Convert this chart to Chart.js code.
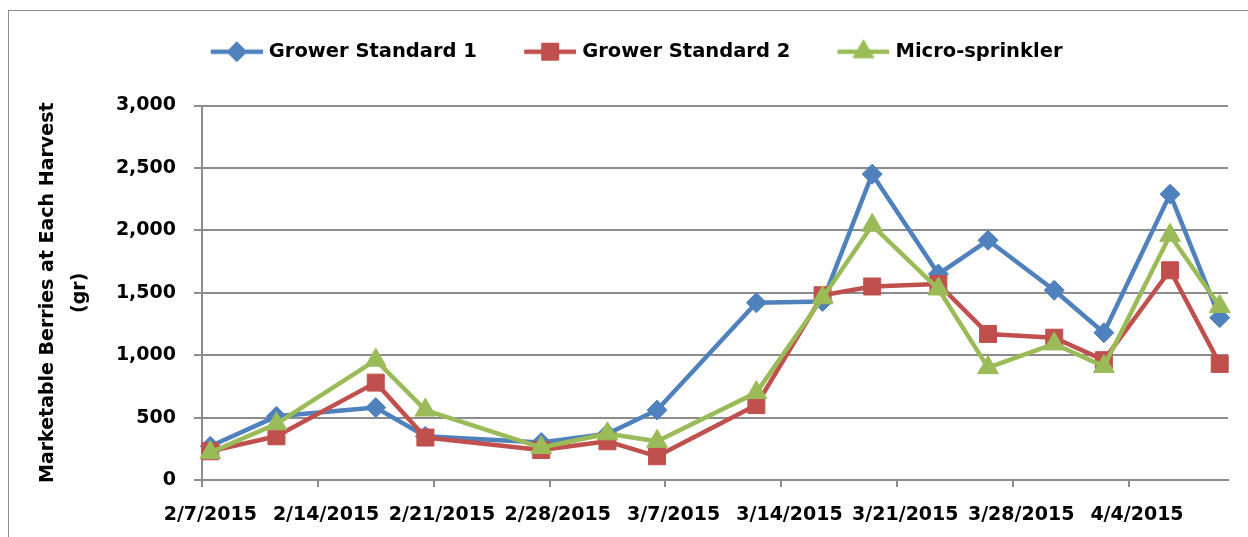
<!DOCTYPE html>
<html>
<head>
<meta charset="utf-8">
<script src="https://cdn.jsdelivr.net/npm/chart.js@4.4.0/dist/chart.umd.min.js"></script>
<style>
  html, body { margin: 0; padding: 0; background: #fff; overflow: hidden; }
  #wrap { position: relative; width: 1248px; height: 537px; overflow: hidden; }
  #frame { position: absolute; left: 8px; top: 10px; right: -10px; bottom: -10px;
           border-left: 1.5px solid #8c8c8c; border-top: 1.5px solid #8c8c8c; pointer-events: none; }
</style>
</head>
<body>
<div id="wrap">
  <canvas id="chart" width="1248" height="537"></canvas>
  <div id="frame"></div>
</div>
<script>
let harvestDates = ['2/7/2015', '2/11/2015', '2/17/2015', '2/20/2015', '2/27/2015', '3/3/2015', '3/6/2015', '3/12/2015',
                    '3/16/2015', '3/19/2015', '3/23/2015', '3/26/2015', '3/30/2015', '4/2/2015', '4/6/2015', '4/9/2015'];
let grower1 = [270, 510, 580, 350, 300, 370, 560, 1420, 1430, 2450, 1650, 1920, 1520, 1180, 2290, 1300];
let grower2 = [230, 350, 780, 340, 240, 310, 190, 600, 1480, 1550, 1570, 1170, 1140, 960, 1680, 930];
let micro = [220, 450, 960, 560, 260, 370, 310, 700, 1460, 2040, 1530, 900, 1090, 910, 1960, 1390];
let seriesNames = ['Grower Standard 1', 'Grower Standard 2', 'Micro-sprinkler'];
let tickLabels = ['2/7/2015', '2/14/2015', '2/21/2015', '2/28/2015', '3/7/2015', '3/14/2015', '3/21/2015', '3/28/2015', '4/4/2015'];

let color = ['#4F81BD', '#C0504D', '#9BBB59'];
let markers = ['rectRot', 'rect', 'triangle'];
let radii = [10, 12, 12];
let gray = '#8c8c8c';

// one category per day (date axis), 2/7 .. 4/9
let days = [];
for (let d = new Date(2015, 1, 7); d <= new Date(2015, 3, 9); d.setDate(d.getDate() + 1)) {
    days.push((d.getMonth() + 1) + '/' + d.getDate() + '/' + d.getFullYear());
}

Chart.defaults.font.family = 'DejaVu Sans';
let boldFont = { family: 'DejaVu Sans', weight: 'bold', size: 19 };

function pairs(values) {
    return values.map((v, i) => ({ x: harvestDates[i], y: v }));
}

// legend icon: line with marker, like excel
function legendIcon(i) {
    let c = document.createElement('canvas');
    c.width = 93; c.height = 26;
    let g = c.getContext('2d');
    g.strokeStyle = color[i];
    g.lineWidth = 4.5;
    g.beginPath(); g.moveTo(41, 13); g.lineTo(93, 13); g.stroke();
    g.fillStyle = color[i];
    g.lineWidth = 1;
    Chart.helpers.drawPoint(g, { pointStyle: markers[i], radius: radii[i], rotation: 0, borderWidth: 1 }, 67, 13);
    return c;
}
let icons = [0, 1, 2].map(legendIcon);

const legendSpace = {
    id: 'legendSpace',
    beforeLayout(chart) {
        let lg = chart.legend;
        if (lg && !lg._tall) {
            let fit = lg.fit;
            lg.fit = function () { fit.call(this); this.height += 34; };
            lg._tall = true;
        }
    }
};

let allSeries = [grower1, grower2, micro];
let ctx = document.getElementById('chart').getContext('2d');
let chart = new Chart(ctx, {
    type: 'line',
    data: {
        labels: days,
        datasets: allSeries.map((vals, i) => ({
            label: seriesNames[i],
            data: pairs(vals),
            borderColor: color[i],
            backgroundColor: color[i],
            borderWidth: 4.5,
            borderJoinStyle: 'round',
            tension: 0,
            pointStyle: markers[i],
            pointRadius: radii[i],
            pointBorderWidth: 1,
            pointBorderColor: color[i],
            pointBackgroundColor: color[i],
            order: 2 - i
        }))
    },
    options: {
        responsive: false,
        animation: false,
        layout: { padding: { top: 32, left: 8, right: 20, bottom: 13 } },
        plugins: {
            tooltip: { enabled: false },
            legend: {
                position: 'top',
                labels: {
                    color: '#000',
                    font: { family: 'DejaVu Sans', weight: 'bold', size: 19.5 },
                    usePointStyle: true,
                    pointStyleWidth: 85.5,
                    padding: 10,
                    generateLabels: (c) => {
                        let items = Chart.defaults.plugins.legend.labels.generateLabels(c);
                        items.sort((a, b) => a.datasetIndex - b.datasetIndex);
                        items.forEach(it => { it.pointStyle = icons[it.datasetIndex]; it.rotation = 0; });
                        return items;
                    }
                }
            }
        },
        scales: {
            x: {
                type: 'category',
                offset: true,
                afterFit: (s) => { s.height = 44; },
                grid: {
                    offset: true,
                    drawOnChartArea: false,
                    drawTicks: true,
                    tickLength: 7,
                    lineWidth: 2,
                    color: (c) => tickLabels.includes(days[c.index]) ? gray : 'rgba(0,0,0,0)'
                },
                border: { display: true, color: gray, width: 2 },
                ticks: {
                    autoSkip: false,
                    maxRotation: 0,
                    minRotation: 0,
                    padding: 17,
                    color: '#000',
                    font: boldFont,
                    callback: function (value) {
                        let lab = this.getLabelForValue(value);
                        return tickLabels.includes(lab) ? lab : '';
                    }
                }
            },
            y: {
                min: 0,
                max: 3000,
                afterFit: (s) => { s.width = 194; },
                grid: { color: gray, lineWidth: 2, tickLength: 8 },
                border: { display: true, color: gray, width: 2 },
                ticks: { stepSize: 500, padding: 18, color: '#000', font: boldFont },
                title: {
                    display: true,
                    text: ['Marketable Berries at Each Harvest', '(gr)'],
                    color: '#000',
                    font: { family: 'DejaVu Sans', weight: 'bold', size: 19, lineHeight: 1.68 },
                    padding: { top: 24, bottom: 20 }
                }
            }
        }
    },
    plugins: [legendSpace]
});
</script>
</body>
</html>
